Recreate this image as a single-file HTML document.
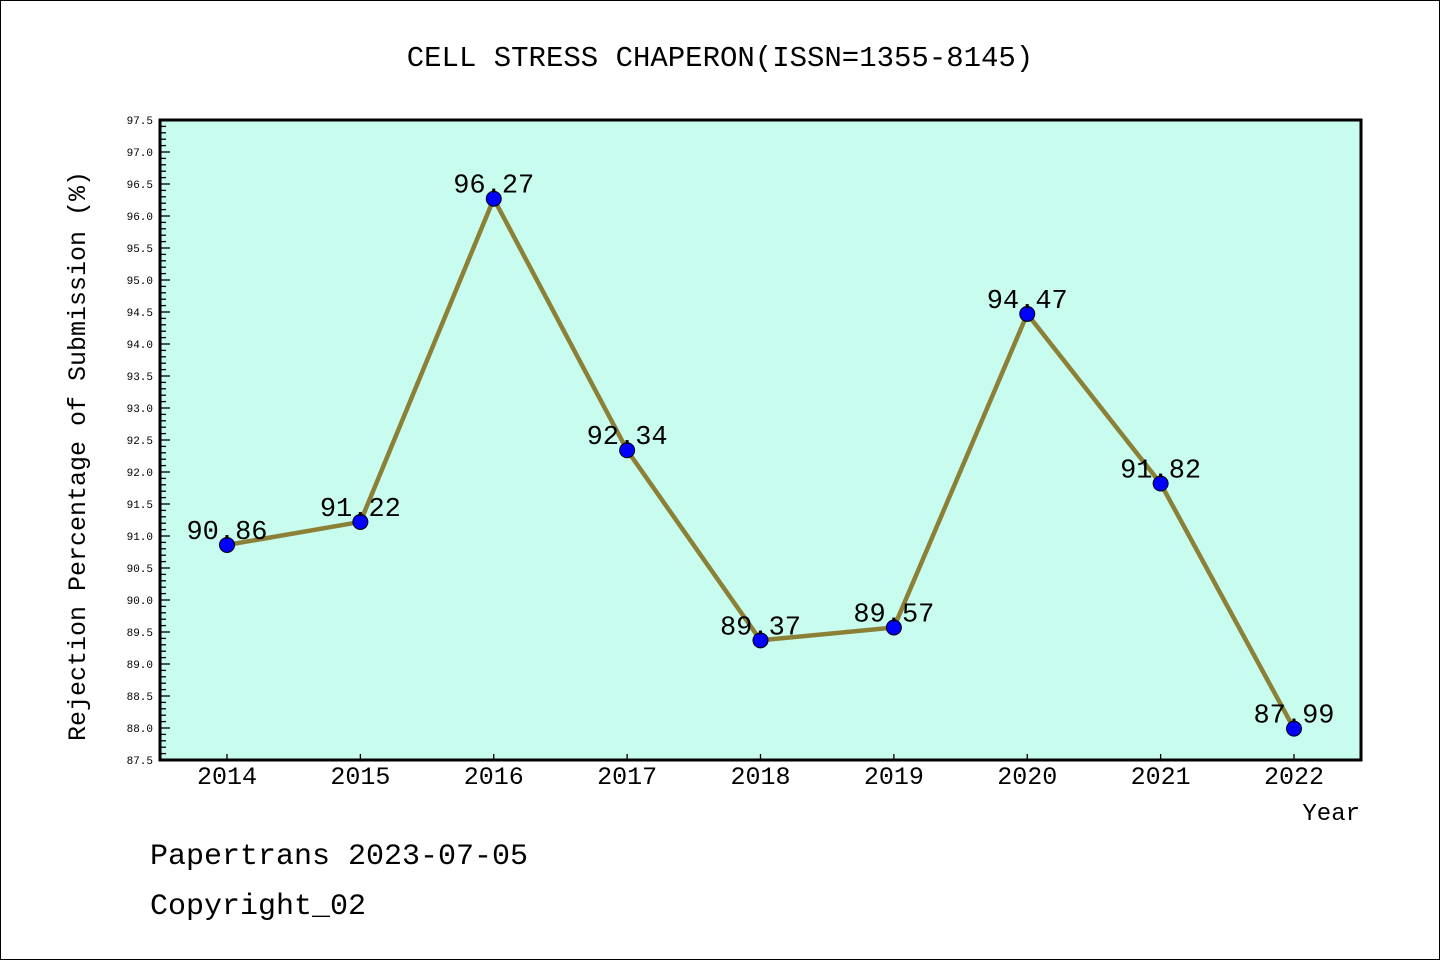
<!DOCTYPE html>
<html><head><meta charset="utf-8"><style>
body{margin:0;background:#fff;}
svg{display:block;font-family:"Liberation Mono","DejaVu Sans Mono","WenQuanYi Zen Hei",monospace;}
</style></head><body>
<svg id="chart" width="1440" height="960" xmlns="http://www.w3.org/2000/svg">
<rect x="0.5" y="0.5" width="1439" height="959" fill="#fff" stroke="#000"/>
<text x="720" y="66" font-size="29" text-anchor="middle">CELL STRESS CHAPERON(ISSN=1355-8145)</text>
<rect x="160" y="120" width="1201" height="640" fill="#c8fcee"/>
<g id="yticks"></g><g id="xticks"></g><g id="series"></g><g id="labels"></g>
<rect x="160" y="120" width="1201" height="640" fill="none" stroke="#000" stroke-width="3"/>
<text transform="translate(85,456) rotate(-90)" font-size="25" text-anchor="middle">Rejection Percentage of Submission (%)</text>
<text x="1360" y="820" font-size="24" text-anchor="end">Year</text>
<text x="150" y="864" font-size="30">Papertrans 2023-07-05</text>
<text x="150" y="914" font-size="30">Copyright_02</text>
</svg>
<script>
const years=["2014","2015","2016","2017","2018","2019","2020","2021","2022"];
const values=[90.86,91.22,96.27,92.34,89.37,89.57,94.47,91.82,87.99];
const yMin=87.5,yMax=97.5;
const NS="http://www.w3.org/2000/svg";
const X=i=>227+i*(1294-227)/(years.length-1);
const Y=v=>760-(v-yMin)/(yMax-yMin)*640;
function mk(t,a,p){const e=document.createElementNS(NS,t);for(const k in a)e.setAttribute(k,a[k]);p.appendChild(e);return e;}
const yt=document.getElementById('yticks');
for(let k=0;k<=100;k++){const v=yMin+k*0.1;const y=Y(v);const major=k%5===0;
 const l=mk('line',{x1:160,x2:160+(major?10:6),y1:y,y2:y,stroke:'#000','stroke-width':1.3},yt);
 
 
 if(major){const t=mk('text',{x:153,y:y+4,'font-size':11,'text-anchor':'end'},yt);t.textContent=v.toFixed(1);
 
 }}
const xt=document.getElementById('xticks');
years.forEach((yr,i)=>{const x=X(i);
 const l=mk('line',{x1:x,x2:x,y1:760,y2:754,stroke:'#000','stroke-width':1.3},xt);
 
 
 const t=mk('text',{x:x,y:784,'font-size':25,'text-anchor':'middle'},xt);t.textContent=yr;
 
 });
const s=document.getElementById('series');
const pl=mk('polyline',{points:values.map((v,i)=>X(i)+','+Y(v)).join(' '),fill:'none',stroke:'#8b8036','stroke-width':4.5},s);


const lb=document.getElementById('labels');
values.forEach((v,i)=>{
 const c=mk('circle',{cx:X(i),cy:Y(v),r:7.5,fill:'#0000ff',stroke:'#000','stroke-width':1},s);
 
 
 const t=mk('text',{x:X(i),y:Y(v)-6,'font-size':27,'text-anchor':'middle'},lb);t.textContent=v.toFixed(2);
 
 });
</script>
</body></html>
